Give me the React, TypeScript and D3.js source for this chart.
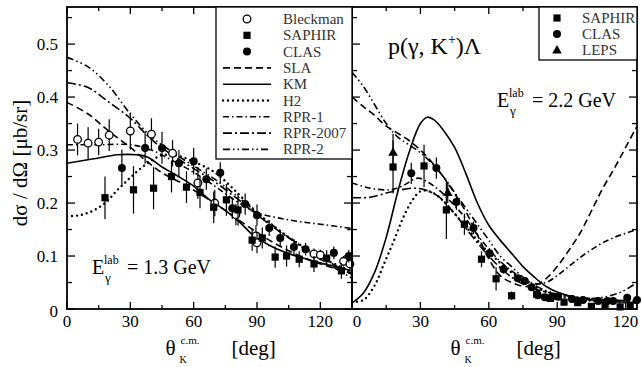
import React from 'react';
import * as d3 from 'd3';

const FONT = '"Liberation Serif", "DejaVu Serif", serif';

// ---- left panel, E = 1.3 GeV : [deg, value, error]
const bleckman13 = [
  [5, 0.32, 0.03], [10, 0.313, 0.03], [15, 0.315, 0.025], [20, 0.328, 0.03], [30, 0.336, 0.035],
  [40, 0.33, 0.03], [50, 0.294, 0.025], [62, 0.238, 0.03], [70, 0.2, 0.025], [80, 0.178, 0.02],
  [89.5, 0.138, 0.02], [90, 0.125, 0.02], [117, 0.104, 0.01], [120, 0.102, 0.01], [131, 0.09, 0.01], [134, 0.085, 0.01],
];
const saphir13 = [
  [18, 0.21, 0.04], [31.5, 0.225, 0.045], [41, 0.228, 0.04], [49.5, 0.25, 0.03], [56.6, 0.23, 0.03],
  [63, 0.22, 0.03], [69.5, 0.192, 0.03], [75.5, 0.206, 0.03], [81, 0.187, 0.03], [87.7, 0.13, 0.02],
  [92.5, 0.134, 0.02], [98.6, 0.098, 0.02], [104, 0.1, 0.02], [110, 0.094, 0.015], [117, 0.085, 0.015],
  [123, 0.096, 0.015], [130, 0.072, 0.015],
];
const clas13 = [
  [26, 0.266, 0.035], [37, 0.304, 0.03], [45, 0.304, 0.03], [53, 0.275, 0.025], [60, 0.279, 0.025],
  [66, 0.245, 0.02], [72.6, 0.257, 0.02], [78.3, 0.19, 0.02], [84.4, 0.198, 0.02], [90, 0.177, 0.02],
  [95.8, 0.153, 0.015], [101, 0.134, 0.015], [107.5, 0.117, 0.015], [113, 0.113, 0.012],
  [126.4, 0.106, 0.012], [133.5, 0.1, 0.012],
];
const sla13 = [
  [0, 0.39], [10, 0.368], [20, 0.335], [30, 0.305], [38, 0.278], [45, 0.257], [55, 0.236], [65, 0.212],
  [75, 0.186], [85, 0.158], [95, 0.132], [105, 0.11], [115, 0.092], [125, 0.079], [135, 0.068],
];
const km13 = [
  [0, 0.275], [12, 0.283], [24, 0.291], [33, 0.291], [38, 0.287], [45, 0.268], [52, 0.252], [60, 0.232],
  [67, 0.208], [75, 0.186], [82, 0.163], [88, 0.14], [96, 0.12], [104, 0.106], [111, 0.097], [119, 0.088],
  [127, 0.08], [135, 0.072],
];
const h213 = [
  [0, 0.175], [6, 0.177], [12, 0.185], [18, 0.2], [24, 0.225], [30, 0.248], [38, 0.275], [45, 0.29],
  [52, 0.29], [60, 0.278], [70, 0.258], [80, 0.222], [90, 0.182], [100, 0.15], [110, 0.122], [120, 0.098], [135, 0.07],
];
const rpr113 = [
  [0, 0.31], [15, 0.31], [30, 0.31], [40, 0.3], [50, 0.28], [60, 0.258], [70, 0.232], [80, 0.204],
  [90, 0.182], [100, 0.172], [110, 0.165], [120, 0.16], [135, 0.152],
];
const rpr200713 = [
  [0, 0.427], [10, 0.418], [20, 0.39], [30, 0.36], [40, 0.32], [50, 0.29], [60, 0.265], [70, 0.24],
  [80, 0.21], [90, 0.178], [100, 0.148], [110, 0.122], [120, 0.098], [135, 0.065],
];
const rpr213 = [
  [0, 0.475], [10, 0.457], [20, 0.42], [30, 0.368], [40, 0.325], [50, 0.296], [60, 0.27], [70, 0.245],
  [80, 0.215], [90, 0.182], [100, 0.15], [110, 0.12], [120, 0.094], [135, 0.058],
];

// ---- right panel, E = 2.2 GeV
const saphir22 = [
  [18, 0.268, 0.05], [31.6, 0.27, 0.04], [41.4, 0.187, 0.055], [49.3, 0.16, 0.02], [56.8, 0.094, 0.015],
  [63.2, 0.057, 0.022], [70, 0.025, 0.008], [81, 0.028, 0.008], [87, 0.02, 0.006], [93, 0.013, 0.006],
  [99, 0.012, 0.005], [105, 0.005, 0.005], [111, 0.008, 0.005], [117.6, 0.004, 0.005], [122, 0.005, 0.005],
];
const clas22 = [
  [26, 0.256, 0.02], [37, 0.266, 0.02], [45.8, 0.202, 0.015], [53.3, 0.153, 0.012], [60.3, 0.105, 0.01],
  [66.5, 0.075, 0.008], [72.7, 0.058, 0.006], [75.8, 0.053, 0.005], [78.8, 0.041, 0.005], [81.5, 0.026, 0.004],
  [84.6, 0.022, 0.004], [87.7, 0.023, 0.004], [90.4, 0.023, 0.004], [96.5, 0.019, 0.004], [101.3, 0.017, 0.004],
  [108, 0.015, 0.004], [112, 0.015, 0.004], [114.5, 0.015, 0.004], [120.7, 0.021, 0.004], [125, 0.017, 0.004],
];
const leps22 = [
  [18, 0.296, 0.035], [42, 0.22, 0.02],
];
const sla22 = [
  [0, 0.4], [5, 0.382], [10, 0.365], [15, 0.345], [20, 0.332], [25, 0.318], [30, 0.3], [35, 0.277], [40, 0.25],
  [45, 0.218], [50, 0.183], [55, 0.14], [60, 0.095], [65, 0.063], [70, 0.05], [75, 0.043], [80, 0.044],
  [85, 0.057], [90, 0.08], [95, 0.11], [100, 0.143], [105, 0.185], [110, 0.228], [115, 0.265], [120, 0.305], [125, 0.345],
];
const km22 = [
  [0, 0.011], [5, 0.03], [10, 0.07], [15, 0.135], [20, 0.22], [25, 0.295], [30, 0.35], [33, 0.362], [36, 0.357],
  [40, 0.338], [45, 0.305], [50, 0.255], [55, 0.2], [60, 0.158], [65, 0.13], [70, 0.105], [75, 0.08], [80, 0.06],
  [85, 0.043], [90, 0.032], [100, 0.02], [110, 0.015], [125, 0.012],
];
const h222 = [
  [0, 0.013], [5, 0.017], [10, 0.045], [14, 0.085], [18, 0.125], [22, 0.168], [26, 0.202], [30, 0.222], [34, 0.222],
  [38, 0.212], [43, 0.19], [48, 0.165], [53, 0.14], [58, 0.115], [63, 0.095], [68, 0.075], [75, 0.055], [82, 0.038],
  [90, 0.025], [100, 0.018], [110, 0.014], [125, 0.012],
];
const rpr122 = [
  [0, 0.238], [8, 0.228], [17, 0.225], [22, 0.232], [29, 0.247], [33, 0.24], [38, 0.225], [45, 0.195], [50, 0.17],
  [55, 0.14], [60, 0.113], [65, 0.09], [70, 0.072], [75, 0.058], [80, 0.048], [85, 0.05], [90, 0.063], [95, 0.08],
  [100, 0.097], [105, 0.112], [110, 0.125], [115, 0.135], [120, 0.143], [125, 0.15],
];
const rpr200722 = [
  [0, 0.21], [8, 0.211], [17, 0.221], [27, 0.228], [32, 0.225], [38, 0.212], [45, 0.18], [50, 0.152], [55, 0.125],
  [60, 0.1], [65, 0.078], [70, 0.06], [75, 0.047], [80, 0.038], [90, 0.028], [100, 0.022], [110, 0.018], [125, 0.015],
];
const rpr222 = [
  [0, 0.447], [5, 0.42], [10, 0.385], [15, 0.35], [20, 0.325], [25, 0.31], [30, 0.295], [35, 0.275], [40, 0.25],
  [45, 0.22], [50, 0.19], [55, 0.16], [60, 0.13], [65, 0.1], [70, 0.08], [75, 0.06], [80, 0.045], [85, 0.035],
  [90, 0.028], [100, 0.02], [110, 0.022], [118, 0.032], [125, 0.05],
];

const xTickLabels = [0, 30, 60, 90, 120];
const yTickLabels = ['0', '0.1', '0.2', '0.3', '0.4', '0.5'];
const legendLeft = ['Bleckman', 'SAPHIR', 'CLAS', 'SLA', 'KM', 'H2', 'RPR-1', 'RPR-2007', 'RPR-2'];
const legendRight = ['SAPHIR', 'CLAS', 'LEPS'];

const dash: Record<string, string> = {
  'SLA': '7,4',
  'KM': 'none',
  'H2': '0,5',
  'RPR-1': '6,3,1.5,3',
  'RPR-2007': '9,3,2,3',
  'RPR-2': '7,3,1.5,3,1.5,3',
};

const y = d3.scaleLinear().domain([0, 0.57]).range([309, 7]);
const TOP = 7, BOTTOM = 309;

function Marker({ kind, cx, cy }: { kind: string; cx: number; cy: number }) {
  if (kind === 'Bleckman') return <circle cx={cx} cy={cy} r={3.8} fill="white" stroke="black" strokeWidth={1.3} />;
  if (kind === 'CLAS') return <circle cx={cx} cy={cy} r={4} fill="black" />;
  if (kind === 'SAPHIR') return <rect x={cx - 3.6} y={cy - 3.6} width={7.2} height={7.2} fill="black" />;
  return <path d={`M${cx},${cy - 5} L${cx + 4.8},${cy + 3.5} L${cx - 4.8},${cy + 3.5} Z`} fill="black" />;
}

function Panel({ id, x0, x1, xMax, sets, curves, yLabels }: any) {
  const x = d3.scaleLinear().domain([0, xMax]).range([x0, x1]);
  const line = d3.line<number[]>().x(d => x(d[0])).y(d => y(d[1])).curve(d3.curveCatmullRom.alpha(0.5));
  const xt = d3.range(0, xMax + 0.1, 15);
  const yt = d3.range(0, 0.56, 0.05);
  const cx = (x0 + x1) / 2;
  return (
    <g>
      <defs>
        <clipPath id={id}><rect x={x0} y={TOP} width={x1 - x0} height={BOTTOM - TOP} /></clipPath>
      </defs>
      <g clipPath={`url(#${id})`} fill="none" stroke="black" strokeWidth={1.6}>
        {curves.map(([name, data]: any) => (
          <path key={name} d={line(data) || ''} strokeDasharray={dash[name]}
            strokeLinecap={name === 'H2' ? 'round' : 'butt'} strokeWidth={name === 'H2' ? 2.4 : 1.6} />
        ))}
      </g>
      {sets.map(([name, data]: any) => (
        <g key={name}>
          {data.map((d: number[], i: number) => (
            <g key={i}>
              <line x1={x(d[0])} x2={x(d[0])} y1={y(d[1] - d[2])} y2={y(d[1] + d[2])} stroke="black" strokeWidth={1.2} />
              <Marker kind={name} cx={x(d[0])} cy={y(d[1])} />
            </g>
          ))}
        </g>
      ))}
      {xt.map(t => {
        const len = t % 30 === 0 ? 7 : 4;
        return (
          <g key={'x' + t} stroke="black" strokeWidth={1.3}>
            <line x1={x(t)} x2={x(t)} y1={BOTTOM} y2={BOTTOM - len} />
            <line x1={x(t)} x2={x(t)} y1={TOP} y2={TOP + len} />
          </g>
        );
      })}
      {yt.map((t, i) => {
        const len = i % 2 === 0 ? 8 : 5;
        return (
          <g key={'y' + i} stroke="black" strokeWidth={1.3}>
            <line x1={x0} x2={x0 + len} y1={y(t)} y2={y(t)} />
            <line x1={x1} x2={x1 - len} y1={y(t)} y2={y(t)} />
          </g>
        );
      })}
      <rect x={x0} y={TOP} width={x1 - x0} height={BOTTOM - TOP} fill="none" stroke="black" strokeWidth={1.8} />
      {xTickLabels.map(t => (
        <text key={'xl' + t} x={x(t) + (t === 0 && !yLabels ? 5 : 0)} y={327} textAnchor="middle"
          fontFamily={FONT} fontSize={17}>{t}</text>
      ))}
      {yLabels && yTickLabels.map((l, i) => (
        <text key={'yl' + i} x={58} y={y(i / 10) + 6 + (i === 0 ? 2 : 0)} textAnchor="end"
          fontFamily={FONT} fontSize={17}>{l}</text>
      ))}
      <text x={cx - 44} y={355} fontFamily={FONT} fontSize={21}>θ</text>
      <text x={cx - 29} y={344} fontFamily={FONT} fontSize={11}>c.m.</text>
      <text x={cx - 30} y={363} fontFamily={FONT} fontSize={10}>K</text>
      <text x={cx + 22} y={355} fontFamily={FONT} fontSize={21}>[deg]</text>
    </g>
  );
}

export default function App() {
  return (
    <svg width={642} height={367} style={{ position: 'absolute', left: 0, top: 0, background: 'white' }}>
      <rect width={642} height={367} fill="white" />
      <Panel id="cl" x0={67} x1={352} xMax={135} yLabels
        sets={[['Bleckman', bleckman13], ['SAPHIR', saphir13], ['CLAS', clas13]]}
        curves={[['SLA', sla13], ['KM', km13], ['H2', h213], ['RPR-1', rpr113], ['RPR-2007', rpr200713], ['RPR-2', rpr213]]} />
      <Panel id="cr" x0={352} x1={637} xMax={125}
        sets={[['SAPHIR', saphir22], ['CLAS', clas22], ['LEPS', leps22]]}
        curves={[['SLA', sla22], ['KM', km22], ['H2', h222], ['RPR-1', rpr122], ['RPR-2007', rpr200722], ['RPR-2', rpr222]]} />

      {/* left legend */}
      <rect x={216} y={7} width={136} height={152} fill="white" stroke="black" strokeWidth={1.3} />
      {legendLeft.map((name, i) => {
        const cy = 19 + i * 16.3;
        return (
          <g key={name}>
            {i < 3 ? <Marker kind={name} cx={247} cy={cy} /> :
              <line x1={223} x2={271} y1={cy} y2={cy} stroke="black"
                strokeWidth={name === 'H2' ? 2.4 : 1.6} strokeLinecap={name === 'H2' ? 'round' : 'butt'}
                strokeDasharray={dash[name]} />}
            <text x={283} y={cy + 5} fontFamily={FONT} fontSize={15} fill="#333">{name}</text>
          </g>
        );
      })}
      {/* right legend */}
      <rect x={539} y={7} width={98} height={53} fill="white" stroke="black" strokeWidth={1.3} />
      {legendRight.map((name, i) => {
        const cy = 18 + i * 16;
        return (
          <g key={name}>
            <Marker kind={name} cx={557} cy={cy} />
            <text x={582} y={cy + 5} fontFamily={FONT} fontSize={15} fill="#333">{name}</text>
          </g>
        );
      })}

      {/* annotations */}
      <text x={388} y={54} fontFamily={FONT} fontSize={24}>
        <tspan>p(γ, K</tspan><tspan fontSize={14} dy={-10}>+</tspan><tspan dy={10}>)Λ</tspan>
      </text>
      <text x={497} y={107} fontFamily={FONT} fontSize={20}>E</text>
      <text x={509} y={97} fontFamily={FONT} fontSize={12}>lab</text>
      <text x={510} y={115} fontFamily={FONT} fontSize={13}>γ</text>
      <text x={532} y={107} fontFamily={FONT} fontSize={20}>= 2.2 GeV</text>

      <text x={92} y={274} fontFamily={FONT} fontSize={20}>E</text>
      <text x={104} y={264} fontFamily={FONT} fontSize={12}>lab</text>
      <text x={105} y={282} fontFamily={FONT} fontSize={13}>γ</text>
      <text x={127} y={274} fontFamily={FONT} fontSize={20}>= 1.3 GeV</text>

      <text transform="translate(27,163) rotate(-90)" textAnchor="middle" fontFamily={FONT} fontSize={21}>
        dσ / dΩ  [μb/sr]
      </text>
    </svg>
  );
}
